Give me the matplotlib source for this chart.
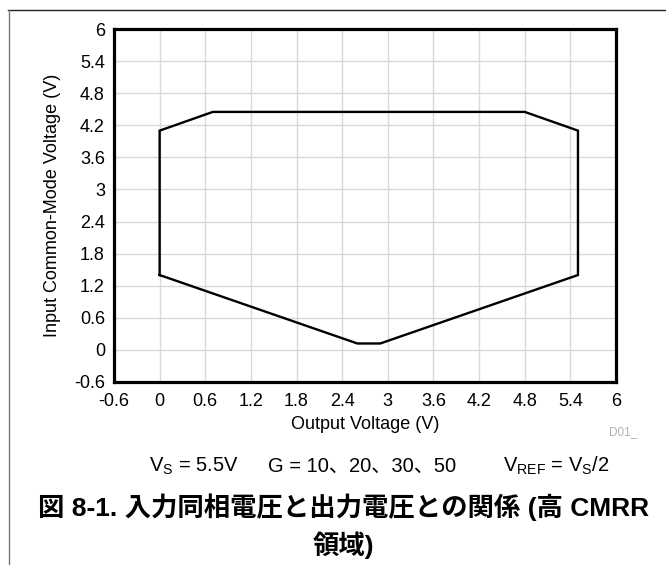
import matplotlib
matplotlib.use("Agg")
import matplotlib.pyplot as plt
from matplotlib.lines import Line2D

plt.rcParams['font.family'] = ['Liberation Sans', 'Noto Sans CJK JP', 'DejaVu Sans']

# Data: boundary of the input common-mode vs output voltage region
out_v = [0.0, 0.0, 0.7, 4.8, 5.5, 5.5, 2.9, 2.6, 0.0]
in_cm = [1.4, 4.1, 4.45, 4.45, 4.1, 1.4, 0.12, 0.12, 1.4]
ticks = [-0.6, 0, 0.6, 1.2, 1.8, 2.4, 3, 3.6, 4.2, 4.8, 5.4, 6]
tick_labels = ['-0.6', '0', '0.6', '1.2', '1.8', '2.4', '3', '3.6', '4.2', '4.8', '5.4', '6']

W, H = 666, 565
fig = plt.figure(figsize=(W / 100, H / 100), dpi=100)
ax = fig.add_axes([114 / W, 1 - 382 / H, (616 - 114) / W, (382 - 29) / H])

ax.plot(out_v, in_cm, color='black', lw=1.7, solid_joinstyle='miter')
ax.set_xlim(-0.6, 6)
ax.set_ylim(-0.6, 6)
ax.set_xticks(ticks)
ax.set_xticklabels(tick_labels)
ax.set_yticks(ticks)
ax.set_yticklabels(tick_labels)
ax.tick_params(length=0, labelsize=13)
ax.tick_params(axis='x', pad=8)
ax.tick_params(axis='y', pad=6.5)
ax.grid(True, color='#d9d9d9', lw=1.0)
ax.set_axisbelow(True)
for s in ax.spines.values():
    s.set_linewidth(2.3)
    s.set_color('black')
ax.set_xlabel('Output Voltage (V)', fontsize=13, labelpad=4)
ax.set_ylabel('Input Common-Mode Voltage (V)', fontsize=13, labelpad=9)

# D01_ mark
fig.text(623 / W, 1 - 432 / H, 'D01_', fontsize=8.5, color='#b0b0b0', ha='center', va='center')

# Condition line
fy = 1 - 466 / H
fig.text(194 / W, fy, r'V$_\mathregular{S}$ = 5.5V', fontsize=14.5, ha='center', va='center')
fig.text(362 / W, fy, 'G = 10、20、30、50', fontsize=14.5, ha='center', va='center',
         family=['Liberation Sans', 'Noto Sans CJK JP'])
fig.text(556 / W, fy, r'V$_\mathregular{REF}$ = V$_\mathregular{S}$/2', fontsize=14.5, ha='center', va='center')

# Caption
tfam = ['Liberation Sans', 'Noto Sans CJK JP']
fig.text(344 / W, 1 - 507 / H, '図 8-1. 入力同相電圧と出力電圧との関係 (高 CMRR',
         fontsize=19, fontweight='bold', ha='center', va='center', family=tfam)
fig.text(344 / W, 1 - 545 / H, '領域)',
         fontsize=19, fontweight='bold', ha='center', va='center', family=tfam)

# Frame lines
fig.add_artist(Line2D([8 / W, 1], [1 - 10 / H, 1 - 10 / H], color='#222222', lw=1.0, transform=fig.transFigure))
fig.add_artist(Line2D([9 / W, 9 / W], [0, 1 - 10 / H], color='#777777', lw=1.0, transform=fig.transFigure))

fig.savefig('out.png', dpi=100)
